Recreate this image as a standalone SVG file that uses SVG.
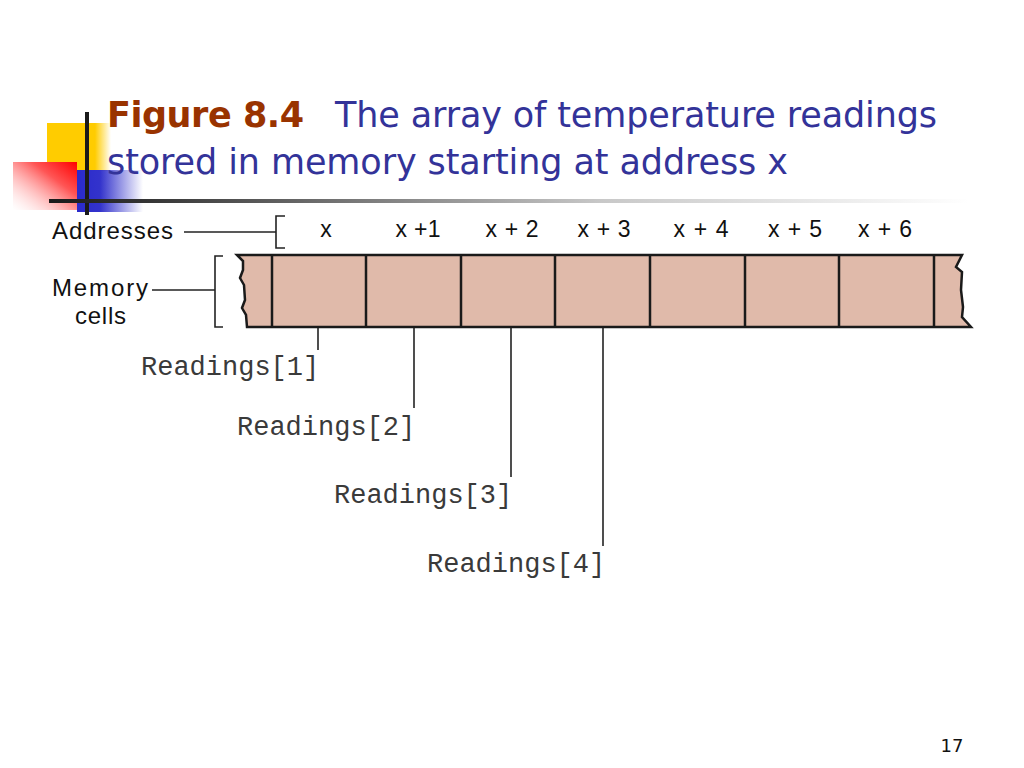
<svg xmlns="http://www.w3.org/2000/svg" width="1024" height="768" viewBox="0 0 1024 768">
<defs>
<linearGradient id="gYel" x1="0" y1="0" x2="1" y2="0">
<stop offset="0" stop-color="#FFCC00"/><stop offset="0.75" stop-color="#FFCC00"/><stop offset="1" stop-color="#FFCC00" stop-opacity="0"/>
</linearGradient>
<linearGradient id="gBlue" x1="0" y1="0" x2="1" y2="0">
<stop offset="0" stop-color="#2A2ACC"/><stop offset="0.35" stop-color="#3333CC"/><stop offset="1" stop-color="#3333CC" stop-opacity="0"/>
</linearGradient>
<linearGradient id="gRed" x1="1" y1="0" x2="0" y2="1">
<stop offset="0" stop-color="#FF0000"/><stop offset="0.35" stop-color="#FF5555"/><stop offset="1" stop-color="#FFFFFF" stop-opacity="0.3"/>
</linearGradient>
<linearGradient id="gLine" x1="0" y1="0" x2="1" y2="0">
<stop offset="0" stop-color="#1A1A1A"/><stop offset="0.1" stop-color="#333333"/><stop offset="0.6" stop-color="#C8C8C8"/><stop offset="1" stop-color="#FFFFFF"/>
</linearGradient>
<style>
.sans{font-family:"Liberation Sans",Arial,sans-serif;fill:#111;}
.lab{font-size:24px;}
.addr{font-size:23px;text-anchor:middle;}
.mono{font-family:"Liberation Mono","Courier New",monospace;font-size:27px;fill:#3a3a3a;}
.ln{stroke:#222;stroke-width:1.6;fill:none;}
.br{stroke:#222;stroke-width:1.6;fill:none;}
.cell{fill:#E0BAAA;stroke:none;}
.div{stroke:#1a1a1a;stroke-width:2.5;}
.title{font-family:"DejaVu Sans",Verdana,sans-serif;font-size:35px;}
</style>
</defs>
<rect width="1024" height="768" fill="#FFFFFF"/>
<g id="decoration">
<rect x="47" y="123" width="64" height="48" fill="url(#gYel)"/>
<rect x="77" y="170" width="66" height="42" fill="url(#gBlue)"/>
<rect x="13" y="162" width="64" height="48" fill="url(#gRed)"/>
<rect x="85" y="112" width="4" height="103" fill="#1A1A1A"/>
<rect x="49" y="199" width="920" height="4" fill="url(#gLine)"/>
</g>
<g id="title">
<text class="title" x="107" y="127" font-weight="bold" fill="#993300" textLength="197">Figure 8.4</text>
<text class="title" x="335" y="127" fill="#333399" textLength="602">The array of temperature readings</text>
<text class="title" x="107" y="174" fill="#333399" textLength="681">stored in memory starting at address x</text>
</g>
<g id="memory">
<path class="cell" d="M237,255 L962,255 L956,267 L962,272 L961,290 L963,307 L962,317 L971,327 L247,327 L246,315 L242,308 L245,300 L244,285 L240,278 L243,270 L243,261 Z"/>
<path class="div" fill="none" d="M237,255 L962,255 L956,267 L962,272 L961,290 L963,307 L962,317 L971,327 L247,327 L246,315 L242,308 L245,300 L244,285 L240,278 L243,270 L243,261 Z"/>
<g class="div">
<line x1="272" y1="255" x2="272" y2="327"/>
<line x1="366" y1="255" x2="366" y2="327"/>
<line x1="461" y1="255" x2="461" y2="327"/>
<line x1="555" y1="255" x2="555" y2="327"/>
<line x1="650" y1="255" x2="650" y2="327"/>
<line x1="745" y1="255" x2="745" y2="327"/>
<line x1="839" y1="255" x2="839" y2="327"/>
<line x1="934" y1="255" x2="934" y2="327"/>
</g>
</g>
<g id="addresses">
<text class="sans lab" x="52" y="239" textLength="121">Addresses</text>
<path class="br" d="M285,216 L276,216 L276,248 L285,248"/>
<text class="sans addr" x="326" y="237">x</text>
<text class="sans addr" x="418" y="237" textLength="45">x +1</text>
<text class="sans addr" x="512" y="237" textLength="53">x + 2</text>
<text class="sans addr" x="604" y="237" textLength="53">x + 3</text>
<text class="sans addr" x="701" y="237" textLength="55">x + 4</text>
<text class="sans addr" x="795" y="237" textLength="54">x + 5</text>
<text class="sans addr" x="885" y="237" textLength="54">x + 6</text>
</g>
<g id="memory-label">
<text class="sans lab" x="52" y="296" textLength="96">Memory</text>
<text class="sans lab" x="75" y="324" textLength="51">cells</text>
<path class="br" d="M223,256 L215,256 L215,327 L223,327"/>
</g>
<g id="connectors">
<line class="ln" x1="184" y1="232" x2="276" y2="232"/>
<line class="ln" x1="152" y1="290" x2="215" y2="290"/>
<line class="ln" x1="318" y1="328" x2="318" y2="350"/>
<line class="ln" x1="414" y1="328" x2="414" y2="408"/>
<line class="ln" x1="511" y1="328" x2="511" y2="477"/>
<line class="ln" x1="603" y1="328" x2="603" y2="546"/>
</g>
<g id="readings">
<text class="mono" x="141" y="375">Readings[1]</text>
<text class="mono" x="237" y="435">Readings[2]</text>
<text class="mono" x="334" y="503">Readings[3]</text>
<text class="mono" x="427" y="572">Readings[4]</text>
</g>
<text id="page" x="952" y="752" font-family="DejaVu Sans,Verdana,sans-serif" font-size="18" fill="#111" text-anchor="middle">17</text>
</svg>
